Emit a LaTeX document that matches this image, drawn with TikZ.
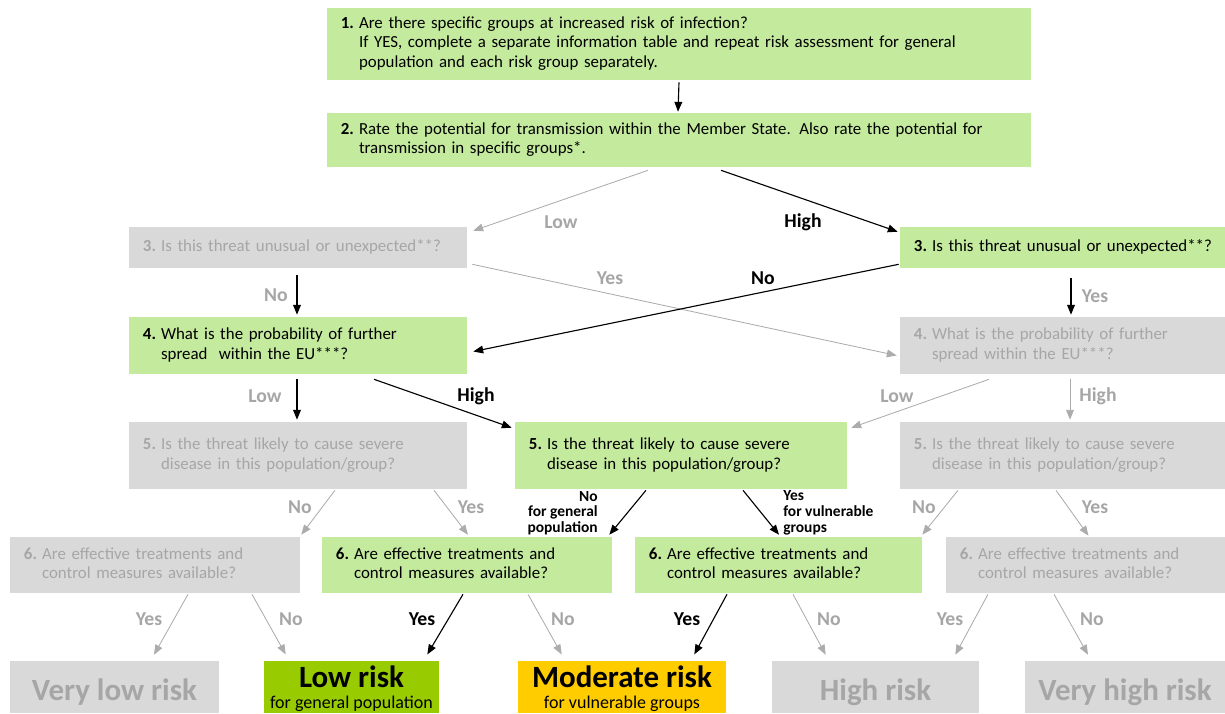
\documentclass[tikz,border=0pt]{standalone}
\usepackage{fontspec}
\setmainfont{Carlito}
\usepackage{xcolor}
\usetikzlibrary{arrows.meta, calc}

\definecolor{qgreen}{RGB}{196,234,158}
\definecolor{boxgrey}{RGB}{217,217,217}
\definecolor{txtgrey}{RGB}{166,166,166}
\definecolor{linegrey}{RGB}{172,172,172}
\definecolor{riskgreen}{RGB}{153,204,0}
\definecolor{riskgold}{RGB}{255,204,0}

\newcommand{\qline}[2]{\begin{tabular}{@{}l@{\hspace{0.3em}}l@{}}\textbf{#1.}&#2\end{tabular}}
\newcommand{\bigrisk}[1]{{\fontsize{22}{22}\selectfont\bfseries #1}}
\newcommand{\risktwo}[2]{\begin{tabular}[t]{@{}c@{}}\bigrisk{#1}\\[1.2pt]#2\end{tabular}}

\tikzset{
  qbox/.style={rectangle, fill=qgreen, inner xsep=0.35cm, inner ysep=0pt, align=left, font=\fontsize{12}{14.2}\selectfont},
  qoff/.style={qbox, fill=boxgrey, text=txtgrey},
  riskbox/.style={rectangle, inner sep=0pt, minimum height=1.3cm, font=\fontsize{12.8}{13.5}\selectfont},
  riskone/.style={riskbox, fill=boxgrey, text=txtgrey, text height=18.5pt, text depth=0pt},
  risktwo/.style={riskbox, text height=19.4pt, text depth=18pt},
  arr/.style={line width=0.8pt, -{Triangle[length=7pt,width=5.5pt]}},
  arrgrey/.style={arr, draw=linegrey, line width=0.6pt},
  lab/.style={inner sep=0pt, font=\fontsize{14}{14}\selectfont\bfseries},
  labgrey/.style={lab, text=txtgrey},
  labsmall/.style={inner sep=0pt, font=\fontsize{11}{11.2}\selectfont\bfseries}
}

\begin{document}
\begin{tikzpicture}[x=0.025cm, y=-0.025cm]
\useasboundingbox (0,0) rectangle (1225,713);

% Steps 1 and 2
\node[qbox, text width=16.9cm, minimum height=1.8cm] (b1) at (679,44) {\qline{1}{Are there specific groups at increased risk of infection?\\&If YES, complete a separate information table and repeat risk assessment for general\\&population and each risk group separately.}};
\node[qbox, text width=16.9cm, minimum height=1.35cm] (b2) at (679,140) {\qline{2}{Rate the potential for transmission within the Member State. Also rate the potential for\\&transmission in specific groups*.}};
\draw[arr] ($(b1.south)+(0,2)$) -- ($(b2.north)+(-1,-1)$);

% Step 3
\node[qoff, text width=7.75cm, minimum height=1.025cm] (b3L) at (298,247.5) {\qline{3}{Is this threat unusual or unexpected**?}};
\node[qbox, text width=7.425cm, minimum height=1.025cm] (b3R) at (1062.5,247.5) {\qline{3}{Is this threat unusual or unexpected**?}};
\draw[arrgrey] ($(b2.south)+(-31,3)$) -- ($(b3L.north east)+(6,4)$);
\draw[arr] ($(b2.south)+(42,3)$) -- ($(b3R.north west)+(-2,5)$);
\node[labgrey] (t2low) at (561,222) {Low};
\node[lab] (t2high) at (803,222) {High};

% Step 4
\node[qbox, text width=7.75cm, minimum height=1.425cm] (b4L) at (298,345.5) {\qline{4}{What is the probability of further\\&spread\ \ within the EU***?}};
\node[qoff, text width=7.425cm, minimum height=1.425cm] (b4R) at (1062.5,345.5) {\qline{4}{What is the probability of further\\&spread within the EU***?}};
\draw[arrgrey] ($(b3L.south east)+(5,-4)$) -- ($(b4R.west)+(-3,10)$);
\draw[arr] ($(b3R.south west)+(-1,-4)$) -- ($(b4L.east)+(6,6)$);
\draw[arr] ($(b3L.south)+(-1,7)$) -- ($(b4L.north)+(-1,-2)$);
\draw[arr] ($(b3R.south)+(8.5,10)$) -- ($(b4R.north)+(8.5,-2)$);
\node[labgrey] (t3yes) at (610,278) {Yes};
\node[lab] (t3no) at (763,278) {No};
\node[labgrey] (t3Lno) at (276,295) {No};
\node[labgrey] (t3Ryes) at (1095,296) {Yes};

% Step 5
\node[qoff, text width=7.75cm, minimum height=1.675cm] (b5L) at (298,455.5) {\qline{5}{Is the threat likely to cause severe\\&disease in this population/group?}};
\node[qbox, text width=7.6cm, minimum height=1.675cm] (b5M) at (681,455.5) {\qline{5}{Is the threat likely to cause severe\\&disease in this population/group?}};
\node[qoff, text width=7.425cm, minimum height=1.675cm] (b5R) at (1062.5,455.5) {\qline{5}{Is the threat likely to cause severe\\&disease in this population/group?}};
\draw[arr] ($(b4L.south)+(-1,5)$) -- ($(b5L.north)+(-1,-2)$);
\draw[arr] ($(b4L.south)+(76,5)$) -- ($(b5M.north west)+(-3,6)$);
\draw[arrgrey] ($(b4R.south)+(-73.5,5)$) -- ($(b5M.north east)+(4,6)$);
\draw[arrgrey] ($(b4R.south)+(7.5,5)$) -- ($(b5R.north)+(7.5,-2)$);
\node[labgrey] (t4Llow) at (265,396) {Low};
\node[lab] (t4Lhigh) at (476,396) {High};
\node[labgrey] (t4Rlow) at (897,396) {Low};
\node[labgrey] (t4Rhigh) at (1098,396) {High};

% Step 6
\node[qoff, text width=6.55cm, minimum height=1.4cm] (b6a) at (155,565) {\qline{6}{Are effective treatments and\\&control measures available?}};
\node[qbox, text width=6.55cm, minimum height=1.4cm] (b6b) at (467,565) {\qline{6}{Are effective treatments and\\&control measures available?}};
\node[qbox, text width=6.475cm, minimum height=1.4cm] (b6c) at (778.5,565) {\qline{6}{Are effective treatments and\\&control measures available?}};
\node[qoff, text width=6.275cm, minimum height=1.4cm] (b6d) at (1085.5,565) {\qline{6}{Are effective treatments and\\&control measures available?}};
\draw[arrgrey] ($(b5L.south)+(37,1)$) -- ($(b6a.north east)+(1,-2)$);
\draw[arrgrey] ($(b5L.south)+(136,1)$) -- ($(b6b.north)+(1,-2)$);
\draw[arr] ($(b5M.south)+(-35,1)$) -- ($(b6b.north east)+(-3,-2)$);
\draw[arr] ($(b5M.south)+(62,1)$) -- ($(b6c.north)+(0.5,-2)$);
\draw[arrgrey] ($(b5R.south)+(-104.5,1)$) -- ($(b6c.north east)+(0,-2)$);
\draw[arrgrey] ($(b5R.south)+(-6.5,1)$) -- ($(b6d.north)+(3,-1)$);
\node[labgrey] (t5Lno) at (300,507) {No};
\node[labgrey] (t5Lyes) at (471,507) {Yes};
\node[labsmall, align=right, anchor=east] (t5Mno) at (598,513) {No\\for general\\population};
\node[labsmall, align=left, anchor=west] (t5Myes) at (783,513) {Yes\\for vulnerable\\groups};
\node[labgrey] (t5Rno) at (924,507) {No};
\node[labgrey] (t5Ryes) at (1095,507) {Yes};

% Outcomes
\node[riskone, minimum width=5.225cm] (vlow) at (114.5,687) {\bigrisk{Very low risk}};
\node[risktwo, fill=riskgreen, minimum width=4.375cm] (low) at (351.5,687) {\risktwo{Low risk}{for general population}};
\node[risktwo, fill=riskgold, minimum width=5.2cm] (mod) at (622,687) {\risktwo{Moderate risk}{for vulnerable groups}};
\node[riskone, minimum width=5.175cm] (high) at (875.5,687) {\bigrisk{High risk}};
\node[riskone, minimum width=5.0cm] (vhigh) at (1125,687) {\bigrisk{Very high risk}};
\draw[arrgrey] ($(b6a.south)+(33,1)$) -- ($(vlow.north)+(39.5,-6)$);
\draw[arrgrey] ($(b6a.south)+(97,1)$) -- ($(low.north west)+(22,-6)$);
\draw[arr] ($(b6b.south)+(-4,1)$) -- ($(low.north east)+(-12,-6)$);
\draw[arrgrey] ($(b6b.south)+(61,1)$) -- ($(mod.north west)+(44,-6)$);
\draw[arr] ($(b6c.south)+(-51.5,1)$) -- ($(mod.north east)+(-32,-6)$);
\draw[arrgrey] ($(b6c.south)+(14.5,1)$) -- ($(high.north west)+(54,-6)$);
\draw[arrgrey] ($(b6d.south)+(-97.5,1)$) -- ($(high.north east)+(-24,-6)$);
\draw[arrgrey] ($(b6d.south)+(-31.5,1)$) -- ($(vhigh.north)+(-37,-6)$);
\node[labgrey] (t6ayes) at (149,619) {Yes};
\node[labgrey] (t6ano) at (291,619) {No};
\node[lab] (t6byes) at (422,619) {Yes};
\node[labgrey] (t6bno) at (563,619) {No};
\node[lab] (t6cyes) at (687,619) {Yes};
\node[labgrey] (t6cno) at (829,619) {No};
\node[labgrey] (t6dyes) at (950,619) {Yes};
\node[labgrey] (t6dno) at (1092,619) {No};
\end{tikzpicture}
\end{document}
